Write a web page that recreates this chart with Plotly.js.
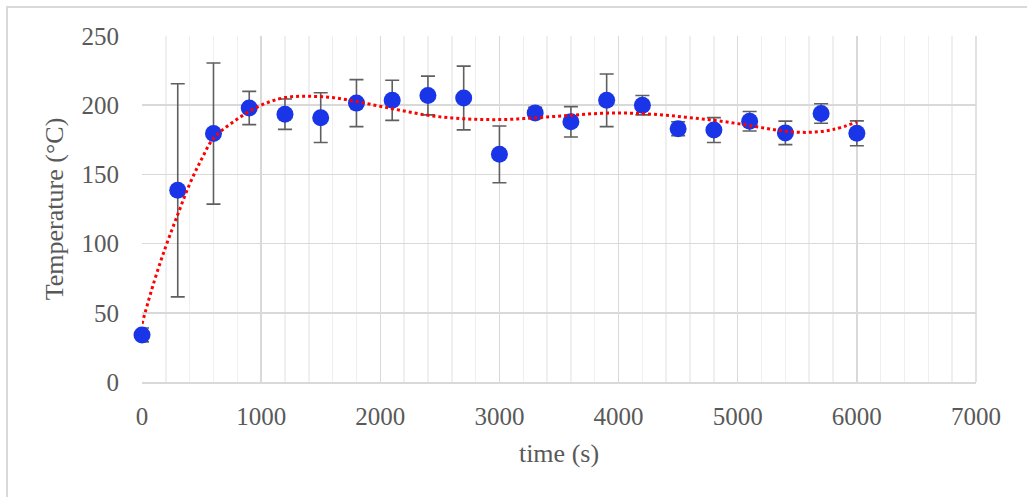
<!DOCTYPE html>
<html>
<head>
<meta charset="utf-8">
<script src="https://cdn.plot.ly/plotly-3.0.1.min.js"></script>
<style>
  html, body { margin: 0; padding: 0; background: #fff; }
  #wrap { position: relative; width: 1027px; height: 497px; }
  #chart { position: absolute; left: 0; top: 0; width: 1027px; height: 497px; }
  #frame { position: absolute; left: 6px; top: 6px; right: 0; bottom: 0;
           border-top: 2px solid #d9d9d9; border-left: 2px solid #d9d9d9; pointer-events: none; }
</style>
</head>
<body>
<div id="wrap">
  <div id="chart"></div>
  <div id="frame"></div>
</div>
<script>
// Measured data
const timeS = [0, 300, 600, 900, 1200, 1500, 1800, 2100, 2400, 2700, 3000, 3300, 3600, 3900, 4200, 4500, 4800, 5100, 5400, 5700, 6000];
const tempC = [34, 138.5, 179.5, 198, 193.5, 191, 201.5, 203.5, 207, 205.2, 164.5, 194.4, 188, 203.5, 200, 183, 182, 188.4, 180, 194, 179.7];
const errC  = [5, 77, 51, 12, 11, 18, 17, 14.5, 14, 23, 20.5, 4, 11, 19, 7, 5, 9, 7, 8.5, 7, 9];

// Trendline
const trendX = [0, 100, 200, 300, 400, 500, 600, 800, 1000, 1200, 1400, 1600, 1800, 2000, 2200, 2400, 2600, 2800, 3000, 3200, 3400, 3600, 3800, 4000, 4200, 4400, 4600, 4800, 5000, 5200, 5400, 5600, 5800, 6000];
const trendY = [42, 72, 98, 121, 143, 161, 176, 190, 200, 205.5, 206.4, 205.5, 202.6, 199.2, 195.8, 192.7, 190.8, 189.8, 189.6, 190.3, 191.5, 192.7, 193.9, 194.4, 193.9, 192.7, 191, 189.1, 186.7, 183.8, 181.2, 180.4, 182.4, 187.9];

const xTicks = [0, 1000, 2000, 3000, 4000, 5000, 6000, 7000];
const yTicks = [0, 50, 100, 150, 200, 250];

const fontFam = '"Liberation Serif", "Times New Roman", serif';
const txtColor = '#595959';

const traces = [
  {
    x: timeS, y: tempC, type: 'scatter', mode: 'markers', cliponaxis: false,
    marker: { color: '#1a35e8', size: 17 },
    error_y: { type: 'data', array: errC, visible: true, color: '#5f5f5f', thickness: 1.6, width: 7 },
    showlegend: false, hoverinfo: 'x+y'
  },
  {
    x: trendX, y: trendY, type: 'scatter', mode: 'lines', cliponaxis: false,
    line: { color: '#ff0000', width: 3, dash: 'dot', shape: 'spline', smoothing: 1 },
    showlegend: false, hoverinfo: 'skip'
  }
];

const layout = {
  width: 1027, height: 497,
  margin: { l: 142, r: 51, t: 36, b: 115 },
  paper_bgcolor: '#ffffff', plot_bgcolor: '#ffffff',
  font: { family: fontFam, size: 25, color: txtColor },
  xaxis: {
    range: [0, 7000], tickvals: xTicks, ticktext: xTicks.map(String),
    showgrid: true, gridcolor: '#d9d9d9', gridwidth: 1.5,
    minor: { dtick: 200, showgrid: true, gridcolor: '#efefef', gridwidth: 1.5 },
    showline: true, linecolor: '#d9d9d9', linewidth: 1.5, mirror: false,
    zeroline: false, ticks: '', ticklabelstandoff: 11,
    tickfont: { family: fontFam, size: 25, color: txtColor },
    title: { text: 'time (s)', font: { family: fontFam, size: 26, color: txtColor }, standoff: 15 }
  },
  yaxis: {
    range: [0, 250], tickvals: yTicks, ticktext: yTicks.map(String),
    showgrid: true, gridcolor: '#d9d9d9', gridwidth: 1.5,
    showline: false, zeroline: false, ticks: '', ticklabelstandoff: 22,
    tickfont: { family: fontFam, size: 25, color: txtColor },
    title: { text: 'Temperature (°C)', font: { family: fontFam, size: 26, color: txtColor }, standoff: 10 }
  },
  shapes: [
    { type: 'line', xref: 'paper', yref: 'paper', x0: 1, x1: 1, y0: 0, y1: 1, line: { color: '#d9d9d9', width: 1.5 } }
  ]
};

Plotly.newPlot('chart', traces, layout, { staticPlot: true, displayModeBar: false });
</script>
</body>
</html>
